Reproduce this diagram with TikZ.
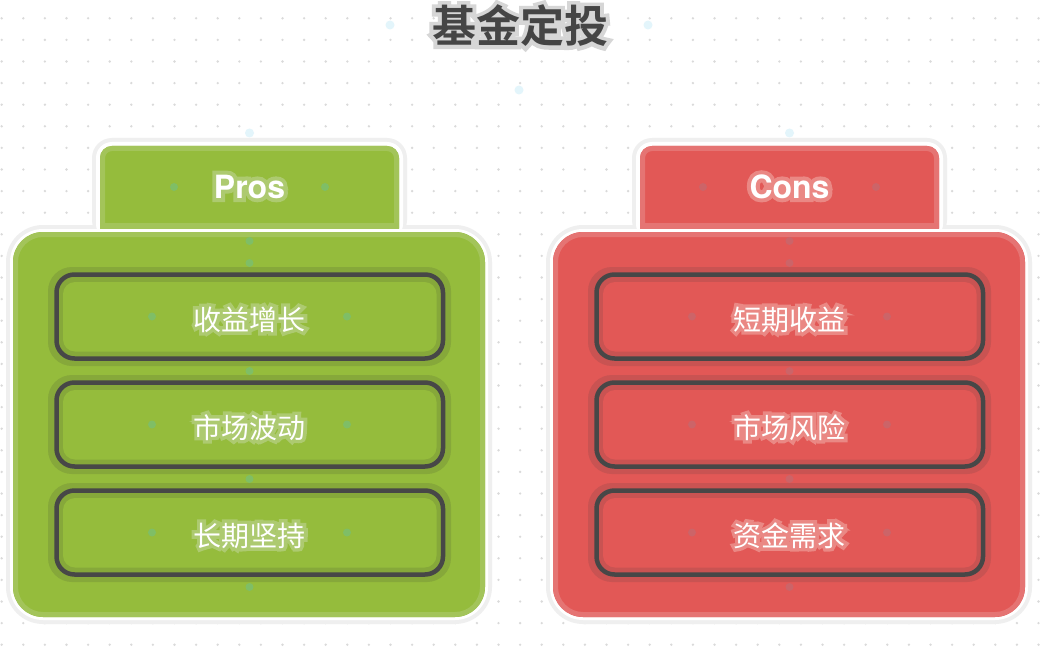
\documentclass[tikz,border=0pt]{standalone}
\usepackage{fontspec}
\newfontfamily\cjk{Noto Sans CJK SC}
\newfontfamily\cjkglow{Noto Sans CJK SC}[FakeBold=24]
\newfontfamily\cjkb{Noto Sans CJK SC Bold}
\newfontfamily\cjkbglow{Noto Sans CJK SC Bold}[FakeBold=18]
\newfontfamily\headfont{texgyreheros-bold.otf}
\newfontfamily\headglow{texgyreheros-bold.otf}[FakeBold=25]
\usetikzlibrary{calc}

\definecolor{prosfill}{HTML}{95BC3C}
\definecolor{prosband}{HTML}{A3C45A}
\definecolor{proshalo}{HTML}{86A83A}
\definecolor{prosglow}{HTML}{ADCA70}
\definecolor{prosdot}{HTML}{7FBE66}
\definecolor{consfill}{HTML}{E25856}
\definecolor{consband}{HTML}{E57473}
\definecolor{conshalo}{HTML}{C95352}
\definecolor{consglow}{HTML}{EA8884}
\definecolor{consdot}{HTML}{CC6468}
\definecolor{darkline}{HTML}{474747}
\definecolor{haloGray}{HTML}{EFEFEF}
\definecolor{gridgray}{HTML}{DADADA}
\definecolor{titlegray}{HTML}{454545}
\definecolor{titleglow}{HTML}{D6D6D6}
\definecolor{anchorblue}{HTML}{E3F5FB}

\tikzset{
  bluedot/.style={fill=anchorblue},
  griddot/.style={fill=gridgray},
  darkframe/.style={draw=darkline, line width=4.5, rounded corners=18},
  lbl/.style={anchor=base, inner sep=0},
}

% #1 name, #2 position, #3 glow colour, #4 text colour, #5 glow font, #6 font, #7 text
\newcommand{\glowtext}[7]{%
  \node[lbl, text=#3] (#1-glow) at (#2) {#5#7};
  \node[lbl, text=#4] (#1) at (#2) {#6#7};}

% #1 prefix, #2 dy, #3 text, #4 name
\newcommand{\drawitem}[4]{%
  \fill[#1halo, rounded corners=24] (48,267+#2) rectangle (451,366+#2);
  \fill[#1fill, rounded corners=12] (63,282+#2) rectangle (436.5,351.5+#2);
  \draw[darkframe] (56.5,274.5+#2) rectangle (443,358.5+#2);
  \glowtext{#4}{249.5,330+#2}{#1glow}{white}{\cjkglow\fontsize{28}{34}\selectfont}{\cjk\fontsize{28}{34}\selectfont}{#3}
  \fill[#1dot] (152,316.5+#2) circle (4);
  \fill[#1dot] (347,316.5+#2) circle (4);
}

% #1 dx, #2 prefix, #3 title, #4 #5 #6 items, #7 header dot half spacing
\newcommand{\drawpanel}[7]{%
\begin{scope}[shift={(#1,0)}]
  \fill[haloGray, rounded corners=37] (6,225) rectangle (492,624);
  \fill[haloGray, rounded corners=20] (92,138) rectangle (407,240);
  \fill[white, rounded corners=16] (96,142) rectangle (403,240);
  \fill[#2fill, rounded corners=12] (100,146) rectangle (399,240);
  \draw[#2band, line width=5, rounded corners=9.5] (102.5,240) -- (102.5,148.5) -- (396.5,148.5) -- (396.5,240);
  \fill[#2band] (100,223) rectangle (399,229);
  \fill[white, rounded corners=33] (10,229) rectangle (488,620);
  \fill[#2fill, rounded corners=30] (13,232) rectangle (485,617);
  \draw[#2band, line width=5, rounded corners=27.5] (15.5,234.5) rectangle (482.5,614.5);
  \glowtext{#2-head}{249.5,198}{#2glow}{white}{\headglow\fontsize{32}{38}\selectfont}{\headfont\fontsize{32}{38}\selectfont}{#3}
  \fill[#2dot] (249.5-#7,187) circle (4);
  \fill[#2dot] (249.5+#7,187) circle (4);
  \fill[#2dot] (249.5,241) circle (4);
  \fill[#2dot] (249.5,263) circle (4);
  \drawitem{#2}{0}{#4}{#2-item1}
  \drawitem{#2}{108}{#5}{#2-item2}
  \drawitem{#2}{216}{#6}{#2-item3}
  \fill[#2dot] (249.5,371) circle (4);
  \fill[#2dot] (249.5,479) circle (4);
  \fill[#2dot] (249.5,587) circle (4);
\end{scope}}

\begin{document}
\begin{tikzpicture}[x=1pt,y=-1pt]
\useasboundingbox (0,0) rectangle (1040,647);
\fill[white] (0,0) rectangle (1040,647);
\foreach \i in {0,...,48}{\foreach \j in {0,...,29}{\fill[griddot] (1.7+21.6*\i,18.3+21.6*\j) circle (1.3);}}
\fill[bluedot] (390,25) circle (4.5);
\fill[bluedot] (648,25) circle (4.5);
\fill[bluedot] (519,90) circle (4.5);
\fill[bluedot] (249.5,133) circle (4.5);
\fill[bluedot] (789.5,133) circle (4.5);

\glowtext{title}{520,42.5}{titleglow}{titlegray}{\cjkbglow\fontsize{44}{52}\selectfont}{\cjkb\fontsize{44}{52}\selectfont}{基金定投}

\drawpanel{0}{pros}{Pros}{收益增长}{市场波动}{长期坚持}{75.5}
\drawpanel{540}{cons}{Cons}{短期收益}{市场风险}{资金需求}{86.5}
\end{tikzpicture}
\end{document}
